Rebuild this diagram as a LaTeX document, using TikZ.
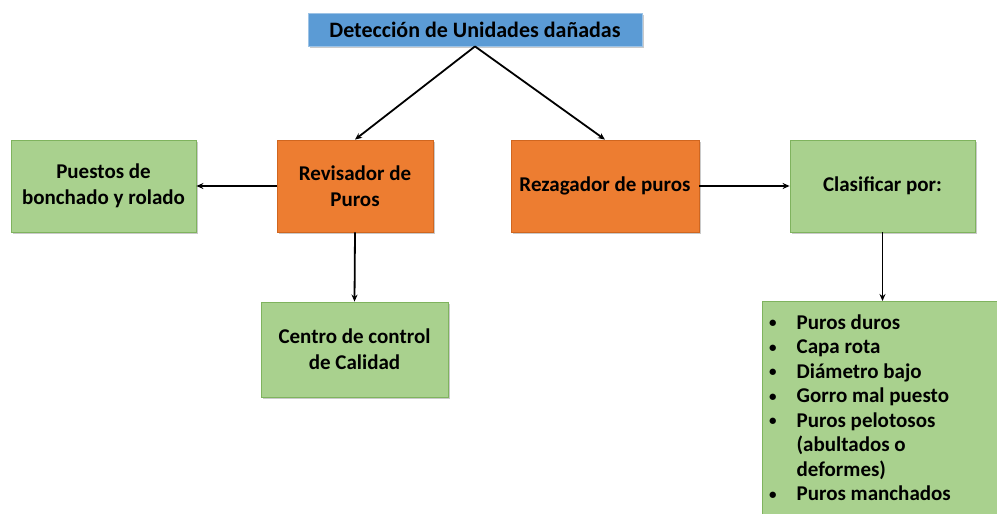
\documentclass[tikz,border=0pt]{standalone}
\usepackage{fontspec}
\setmainfont{Carlito}
\usetikzlibrary{arrows.meta,shadows}
\definecolor{bluebox}{HTML}{5B9BD5}
\definecolor{greenbox}{HTML}{A9D18E}
\definecolor{greenedge}{HTML}{7FB35E}
\definecolor{orangebox}{HTML}{ED7D31}
\definecolor{orangeedge}{HTML}{D0661F}
\newcommand{\smbul}{\raisebox{1.5pt}{\fontsize{15}{15}\selectfont •}}
\tikzset{
  base/.style={font=\bfseries\fontsize{21}{26}\selectfont, align=center, inner sep=0pt,
    drop shadow={shadow xshift=2pt, shadow yshift=-2pt, opacity=0.35, fill=black!60}},
  gbox/.style={base, fill=greenbox, draw=greenedge, line width=0.8pt},
  obox/.style={base, fill=orangebox, draw=orangeedge, line width=0.8pt},
  bbox/.style={base, font=\bfseries\fontsize{22}{26}\selectfont, fill=bluebox, draw=bluebox!60!white, line width=0.8pt},
  arr/.style={-{Stealth[length=7pt,width=6pt]}, line width=1.8pt, black},
}
\begin{document}
\begin{tikzpicture}[x=1pt,y=-1pt]
\useasboundingbox (0,0) rectangle (997,514);
\clip (0,0) rectangle (997,514);
\node[bbox, minimum width=334pt, minimum height=33pt] (top) at (475,29.5) {Detección de Unidades dañadas};
\node[gbox, minimum width=185pt, minimum height=92pt] (pue) at (103.5,186) {Puestos de\\bonchado y rolado};
\node[obox, minimum width=156pt, minimum height=92pt] (rev) at (355,186) {Revisador de\\Puros};
\node[obox, minimum width=188pt, minimum height=92pt] (rez) at (605,186) {Rezagador de puros};
\node[gbox, minimum width=185pt, minimum height=92pt] (cla) at (882.5,186) {Clasificar por:};
\node[gbox, minimum width=187pt, minimum height=95pt] (cen) at (354.5,349.5) {Centro de control\\de Calidad};
\node[gbox, anchor=north west, minimum width=245pt, minimum height=230pt] (lst) at (762,301) {};
\node[font=\bfseries\fontsize{21}{24.5}\selectfont, anchor=north west, inner sep=0pt, align=left] (lsttext) at (769,312)
{\begin{tabular}{@{}l@{\hspace{20pt}}l@{}}
\smbul&Puros duros\\
\smbul&Capa rota\\
\smbul&Diámetro bajo\\
\smbul&Gorro mal puesto\\
\smbul&Puros pelotosos\\
&(abultados o\\
&deformes)\\
\smbul&Puros manchados
\end{tabular}};
\draw[arr] (top.south) -- (rev.north);
\draw[arr] (top.south) -- (rez.north);
\draw[arr] (rev.west) -- (pue.east);
\draw[arr] (rev.south) -- (cen.north);
\draw[arr] (rez.east) -- (cla.west);
\draw[arr] (cla.south) -- (cla.south |- lst.north);
\end{tikzpicture}
\end{document}
